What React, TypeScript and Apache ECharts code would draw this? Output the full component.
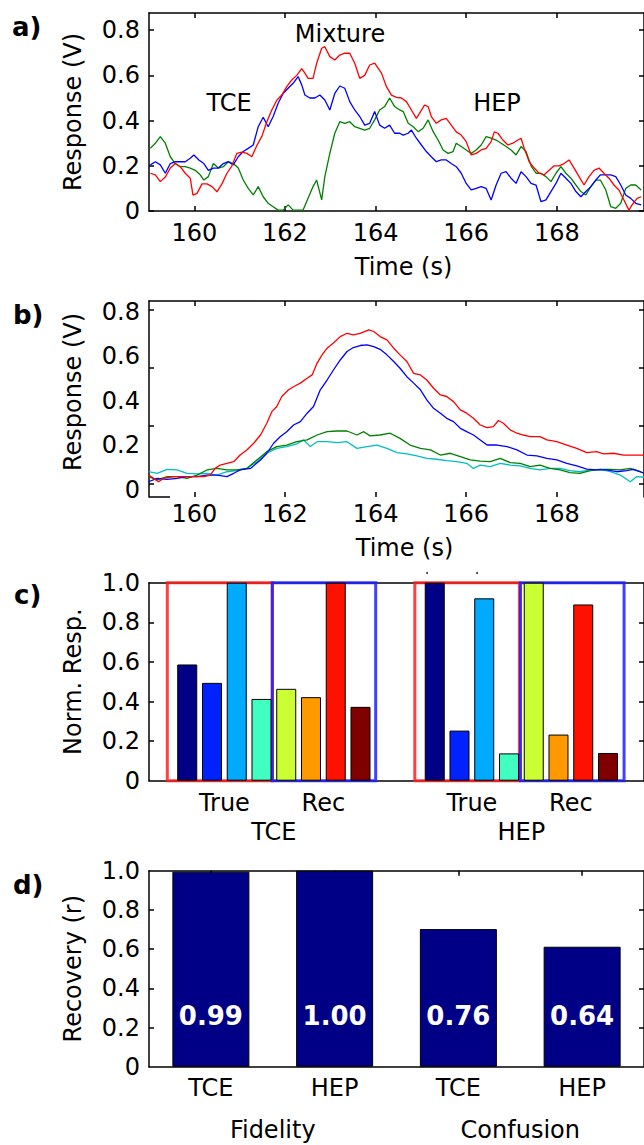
import React, { useEffect, useRef } from "react";
import * as echarts from "echarts";

const FONT = "DejaVu Sans";

// ---------- Panel a: raw responses ----------
const mixtureA: number[][] = [
  [159.03,0.167],[159.14,0.16],[159.25,0.13],[159.36,0.15],[159.47,0.19],[159.58,0.21],[159.69,0.196],[159.8,0.167],[159.91,0.145],[159.97,0.07],[160.06,0.078],[160.17,0.12],[160.28,0.12],[160.39,0.108],[160.5,0.085],[160.61,0.12],[160.72,0.167],[160.83,0.2],[160.94,0.255],[161.05,0.26],[161.16,0.255],[161.27,0.24],[161.38,0.29],[161.49,0.33],[161.6,0.395],[161.71,0.447],[161.82,0.49],[161.93,0.513],[162.04,0.55],[162.15,0.58],[162.26,0.6],[162.37,0.63],[162.44,0.61],[162.51,0.587],[162.62,0.587],[162.7,0.654],[162.81,0.72],[162.88,0.727],[162.99,0.683],[163.1,0.668],[163.21,0.69],[163.32,0.698],[163.43,0.698],[163.54,0.654],[163.65,0.587],[163.76,0.6],[163.87,0.646],[163.98,0.654],
  [164.13,0.61],[164.24,0.55],[164.35,0.513],[164.46,0.503],[164.57,0.5],[164.68,0.484],[164.79,0.447],[164.9,0.41],[164.97,0.432],[165.08,0.469],[165.16,0.462],[165.23,0.418],[165.34,0.388],[165.45,0.403],[165.56,0.41],[165.67,0.38],[165.78,0.35],[165.89,0.336],[166.0,0.307],[166.11,0.248],[166.22,0.255],[166.33,0.27],[166.44,0.277],[166.55,0.307],[166.62,0.35],[166.7,0.344],[166.81,0.314],[166.92,0.292],[167.03,0.3],[167.14,0.314],[167.21,0.322],[167.28,0.277],[167.39,0.218],[167.5,0.19],[167.61,0.167],[167.72,0.16],[167.83,0.18],[167.94,0.2],[168.05,0.2],[168.16,0.21],[168.27,0.226],[168.38,0.19],[168.49,0.152],[168.6,0.115],[168.71,0.152],[168.82,0.18],[168.93,0.19],[169.04,0.167],[169.15,0.145],[169.26,0.115],[169.37,0.093],[169.48,0.049],[169.59,0.004],[169.66,0.027],[169.77,0.056],[169.86,0.063]
];
const tceA: number[][] = [
  [159.03,0.204],[159.14,0.218],[159.25,0.204],[159.36,0.167],[159.47,0.21],[159.58,0.218],[159.69,0.218],[159.8,0.218],[159.91,0.233],[159.99,0.248],[160.1,0.226],[160.21,0.21],[160.31,0.18],[160.42,0.19],[160.53,0.19],[160.64,0.21],[160.75,0.218],[160.86,0.204],[160.97,0.24],[161.08,0.263],[161.19,0.277],[161.3,0.292],[161.41,0.373],[161.52,0.415],[161.63,0.373],[161.74,0.418],[161.85,0.477],[161.96,0.52],[162.07,0.543],[162.18,0.565],[162.29,0.595],[162.37,0.558],[162.44,0.513],[162.55,0.5],[162.66,0.5],[162.77,0.513],[162.88,0.491],[162.99,0.447],[163.1,0.52],[163.21,0.553],[163.32,0.543],[163.43,0.484],[163.54,0.447],[163.65,0.418],[163.76,0.38],[163.87,0.388],[163.98,0.44],
  [164.09,0.38],[164.2,0.366],[164.31,0.38],[164.42,0.344],[164.53,0.344],[164.61,0.336],[164.72,0.344],[164.79,0.358],[164.9,0.322],[165.01,0.292],[165.12,0.263],[165.23,0.24],[165.34,0.218],[165.45,0.226],[165.56,0.226],[165.67,0.21],[165.78,0.196],[165.89,0.167],[166.0,0.122],[166.11,0.093],[166.22,0.1],[166.33,0.108],[166.44,0.1],[166.55,0.049],[166.66,0.115],[166.77,0.167],[166.88,0.174],[166.99,0.145],[167.1,0.122],[167.21,0.174],[167.32,0.152],[167.43,0.122],[167.54,0.115],[167.65,0.041],[167.76,0.049],[167.87,0.086],[167.98,0.122],[168.09,0.167],[168.2,0.145],[168.31,0.122],[168.42,0.086],[168.53,0.063],[168.64,0.086],[168.75,0.108],[168.86,0.137],[168.96,0.16],[169.08,0.16],[169.19,0.16],[169.3,0.152],[169.41,0.115],[169.52,0.071],[169.63,0.056],[169.74,0.034],[169.86,0.027]
];
const hepA: number[][] = [
  [159.03,0.277],[159.14,0.3],[159.25,0.329],[159.36,0.3],[159.47,0.24],[159.58,0.21],[159.69,0.196],[159.8,0.196],[159.91,0.19],[160.02,0.18],[160.13,0.16],[160.21,0.137],[160.31,0.152],[160.42,0.21],[160.53,0.19],[160.64,0.196],[160.75,0.218],[160.86,0.21],[160.97,0.19],[161.08,0.137],[161.19,0.1],[161.3,0.071],[161.41,0.108],[161.52,0.063],[161.63,0.034],[161.74,0.019],[161.85,0.004],[161.96,0.004],[162.07,0.027],[162.18,0.004],[162.29,0.004],[162.4,0.004],[162.51,0.056],[162.62,0.108],[162.7,0.137],[162.81,0.049],[162.88,0.152],[162.99,0.255],[163.1,0.344],[163.21,0.395],[163.32,0.388],[163.43,0.395],[163.54,0.373],[163.65,0.366],[163.76,0.358],[163.87,0.366],[163.98,0.403],[164.09,0.447],[164.2,0.462],[164.31,0.5],[164.42,0.462],[164.53,0.447],
  [164.61,0.44],[164.72,0.388],[164.83,0.373],[164.94,0.351],[165.05,0.366],[165.16,0.403],[165.27,0.351],[165.38,0.314],[165.49,0.27],[165.6,0.255],[165.71,0.263],[165.78,0.3],[165.89,0.285],[166.0,0.27],[166.11,0.255],[166.22,0.27],[166.33,0.292],[166.44,0.329],[166.55,0.322],[166.66,0.314],[166.77,0.3],[166.88,0.285],[166.99,0.27],[167.1,0.248],[167.21,0.285],[167.32,0.263],[167.43,0.2],[167.54,0.167],[167.65,0.167],[167.76,0.152],[167.87,0.13],[167.98,0.167],[168.09,0.196],[168.2,0.167],[168.31,0.145],[168.42,0.115],[168.53,0.086],[168.64,0.071],[168.75,0.108],[168.86,0.137],[168.96,0.137],[169.08,0.093],[169.19,0.019],[169.3,0.012],[169.41,0.034],[169.52,0.1],[169.63,0.115],[169.74,0.115],[169.86,0.093]
];

// ---------- Panel b: smoothed responses ----------
const mixtureB: number[][] = [
  [158.99,0.067],[159.1,0.052],[159.21,0.037],[159.32,0.052],[159.54,0.06],[159.76,0.06],[159.99,0.06],[160.21,0.06],[160.35,0.067],[160.46,0.097],[160.57,0.112],[160.72,0.12],[160.87,0.127],[161.01,0.157],[161.16,0.18],[161.31,0.21],[161.46,0.247],[161.6,0.3],[161.71,0.352],[161.82,0.375],[161.93,0.42],[162.08,0.45],[162.19,0.464],[162.34,0.48],[162.49,0.502],[162.6,0.517],[162.71,0.57],[162.82,0.607],[162.93,0.637],[163.07,0.66],[163.22,0.689],[163.37,0.704],[163.51,0.697],[163.66,0.704],[163.85,0.719],[163.96,0.712],[164.1,0.689],[164.25,0.674],[164.4,0.637],[164.54,0.607],[164.69,0.577],[164.84,0.524],[164.99,0.517],[165.13,0.494],[165.28,0.457],[165.43,0.427],[165.57,0.42],[165.72,0.397],[165.87,0.36],[166.01,0.345],[166.16,0.322],[166.31,0.292],[166.46,0.28],[166.6,0.285],[166.71,0.312],[166.82,0.3],[166.97,0.27],[167.12,0.255],[167.26,0.247],[167.41,0.24],[167.63,0.24],[167.78,0.225],[168.0,0.217],[168.22,0.202],[168.44,0.187],[168.66,0.168],[168.88,0.172],[169.03,0.162],[169.25,0.165],[169.47,0.157],[169.69,0.157],[169.93,0.157]
];
const tceB: number[][] = [
  [158.99,0.037],[159.18,0.052],[159.4,0.048],[159.62,0.052],[159.84,0.06],[160.06,0.06],[160.28,0.067],[160.5,0.067],[160.72,0.06],[160.87,0.075],[161.01,0.09],[161.24,0.097],[161.46,0.135],[161.6,0.165],[161.75,0.21],[161.9,0.24],[162.04,0.262],[162.19,0.292],[162.34,0.307],[162.49,0.345],[162.63,0.375],[162.78,0.45],[162.93,0.494],[163.07,0.539],[163.22,0.584],[163.37,0.622],[163.51,0.64],[163.66,0.649],[163.81,0.652],[163.96,0.644],[164.1,0.632],[164.25,0.607],[164.4,0.577],[164.54,0.547],[164.69,0.509],[164.84,0.48],[164.99,0.45],[165.13,0.405],[165.28,0.367],[165.43,0.345],[165.57,0.322],[165.72,0.307],[165.87,0.277],[166.01,0.262],[166.16,0.247],[166.31,0.225],[166.46,0.202],[166.68,0.202],[166.9,0.195],[167.12,0.18],[167.34,0.157],[167.56,0.153],[167.78,0.142],[168.0,0.135],[168.22,0.12],[168.44,0.108],[168.66,0.094],[168.88,0.09],[169.1,0.09],[169.32,0.082],[169.54,0.087],[169.69,0.093],[169.93,0.075]
];
const hepB: number[][] = [
  [158.99,0.06],[159.18,0.045],[159.4,0.06],[159.62,0.06],[159.84,0.052],[160.06,0.067],[160.28,0.09],[160.5,0.097],[160.72,0.09],[160.94,0.09],[161.16,0.097],[161.38,0.135],[161.6,0.172],[161.82,0.195],[162.04,0.202],[162.26,0.217],[162.49,0.225],[162.71,0.247],[162.93,0.262],[163.15,0.265],[163.37,0.265],[163.59,0.247],[163.74,0.262],[163.88,0.243],[164.1,0.247],[164.32,0.255],[164.54,0.232],[164.76,0.202],[164.99,0.187],[165.21,0.18],[165.43,0.157],[165.65,0.165],[165.87,0.15],[166.09,0.135],[166.31,0.13],[166.53,0.127],[166.75,0.142],[166.97,0.123],[167.19,0.12],[167.41,0.105],[167.63,0.112],[167.85,0.097],[168.07,0.09],[168.29,0.078],[168.51,0.075],[168.74,0.087],[168.96,0.093],[169.18,0.093],[169.4,0.09],[169.62,0.097],[169.84,0.082],[169.93,0.075]
];
const otherB: number[][] = [
  [158.99,0.082],[159.18,0.075],[159.4,0.093],[159.62,0.09],[159.84,0.075],[160.06,0.072],[160.28,0.075],[160.5,0.067],[160.72,0.082],[160.94,0.087],[161.16,0.097],[161.38,0.127],[161.6,0.165],[161.82,0.187],[162.04,0.195],[162.26,0.207],[162.41,0.225],[162.56,0.195],[162.71,0.217],[162.93,0.217],[163.15,0.213],[163.37,0.217],[163.59,0.187],[163.81,0.195],[164.03,0.202],[164.25,0.187],[164.47,0.168],[164.69,0.162],[164.91,0.153],[165.13,0.142],[165.35,0.138],[165.57,0.132],[165.79,0.127],[166.01,0.12],[166.16,0.097],[166.31,0.112],[166.53,0.105],[166.75,0.12],[166.97,0.112],[167.19,0.108],[167.41,0.097],[167.63,0.09],[167.85,0.097],[168.07,0.097],[168.29,0.087],[168.51,0.082],[168.74,0.09],[168.96,0.093],[169.18,0.082],[169.4,0.067],[169.62,0.037],[169.76,0.06],[169.93,0.057]
];

const timeTicks = [160, 162, 164, 166, 168];
const respTicks = [0, 0.2, 0.4, 0.6, 0.8];
const respGhostTicksB = [0.03, 0.29, 0.55, 0.81];

// ---------- Panel c: normalised responses ----------
const barSlotsC = [0, 1, 2, 3, 4, 5, 6, 7, 10, 11, 12, 13, 14, 15, 16, 17];
const barValuesC = [0.587, 0.494, 1.0, 0.413, 0.464, 0.422, 1.0, 0.373, 1.0, 0.253, 0.921, 0.138, 1.0, 0.233, 0.89, 0.14];
const barColorsC = ["#000086", "#0022ff", "#00aaff", "#40ffc0", "#ccff33", "#ff9900", "#ff1100", "#800000"];
const subGroupPosC = [1.5, 5.5, 11.5, 15.5];
const subGroupNamesC = ["True", "Rec", "True", "Rec"];
const groupPosC = [3.5, 13.5];
const groupNamesC = ["TCE", "HEP"];
const boxStartC = [-0.805, 3.437, 9.195, 13.465];
const boxEndC = [3.437, 7.614, 13.42, 17.65];
const boxColorC = ["rgba(255,30,30,0.85)", "rgba(30,30,255,0.85)", "rgba(255,30,30,0.85)", "rgba(30,30,255,0.85)"];
const normTicks = [0, 0.2, 0.4, 0.6, 0.8, 1.0];
const innerTicks = [0.2, 0.4, 0.6, 0.8];

// ---------- Panel d: recovery ----------
const recoveryCats = ["TCE", "HEP", "TCE", "HEP"];
const recoveryValues = [0.995, 1.0, 0.702, 0.612];
const recoveryLabels = ["0.99", "1.00", "0.76", "0.64"];
const recoveryGroups = ["Fidelity", "Confusion"];

const XMIN = 159;
const XMAX = 159 + 497 / 45.5;

const txt = { fontFamily: FONT, fontSize: 24, color: "#000" };
const line = { color: "#000", width: 1.5 };
const fmtY = (v: number) => (Math.abs(v) < 1e-9 ? "0" : v.toFixed(1));
const pick = (pos: number[], names: string[]) => (v: number) => {
  const i = pos.findIndex((p) => Math.abs(p - v) < 1e-6);
  return i >= 0 ? names[i] : "";
};

function frameX(gridIndex: number, min: number, max: number, ticks: number[] | null) {
  return {
    type: "value", gridIndex, min, max, position: "top",
    axisLine: { show: true, onZero: false, lineStyle: line },
    axisTick: ticks ? { show: true, inside: true, length: 5, customValues: ticks, lineStyle: line } : { show: false },
    axisLabel: { show: false }, splitLine: { show: false },
  };
}
function frameY(gridIndex: number, min: number, max: number, ticks: number[]) {
  return {
    type: "value", gridIndex, min, max, position: "right",
    axisLine: { show: true, onZero: false, lineStyle: line },
    axisTick: { show: true, inside: true, length: 5, customValues: ticks, lineStyle: line },
    axisLabel: { show: false }, splitLine: { show: false },
  };
}

export default function App() {
  const ref = useRef<HTMLDivElement>(null);
  useEffect(() => {
    if (!ref.current) return;
    const chart = echarts.init(ref.current, undefined, { renderer: "svg" });
    const lineSeries = (name: string, data: number[][], color: string, xi: number, yi: number) => ({
      name, type: "line", data, xAxisIndex: xi, yAxisIndex: yi, showSymbol: false, symbol: "none",
      lineStyle: { color, width: 1.3 }, itemStyle: { color }, clip: true,
    });
    const panelLabel = (text: string, x: number, y: number) => ({
      type: "text", x, y,
      style: { text, fontFamily: FONT, fontSize: 26, fontWeight: "bold", fill: "#000", align: "left", verticalAlign: "middle" },
    });
    const note = (text: string, x: number, y: number) => ({
      type: "text", x, y,
      style: { text, fontFamily: FONT, fontSize: 24, fill: "#000", align: "center", verticalAlign: "middle" },
    });
    const option: any = {
      animation: false,
      backgroundColor: "#fff",
      grid: [
        { left: 149, top: 13, width: 497, height: 198 },
        { left: 149, top: 301, width: 497, height: 196 },
        { left: 149, top: 582.7, width: 497, height: 198 },
        { left: 149, top: 870.7, width: 497, height: 196 },
      ],
      xAxis: [
        // a
        {
          type: "value", gridIndex: 0, min: XMIN, max: XMAX, position: "bottom",
          axisLine: { show: true, onZero: false, lineStyle: line },
          axisTick: { show: true, inside: true, length: 5, customValues: timeTicks, lineStyle: line },
          axisLabel: { ...txt, margin: 10, customValues: timeTicks },
          splitLine: { show: false },
          name: "Time (s)", nameLocation: "middle", nameGap: 44,
          nameTextStyle: { ...txt, padding: [0, 0, 0, 14] },
        },
        frameX(0, XMIN, XMAX, timeTicks),
        // b
        {
          type: "value", gridIndex: 1, min: XMIN, max: XMAX, position: "bottom",
          axisLine: { show: false, onZero: false },
          axisTick: { show: true, inside: true, length: 5, customValues: timeTicks, lineStyle: line },
          axisLabel: { ...txt, margin: 5, customValues: timeTicks },
          splitLine: { show: false },
          name: "Time (s)", nameLocation: "middle", nameGap: 39,
          nameTextStyle: { ...txt, padding: [0, 0, 0, 16] },
        },
        frameX(1, XMIN, XMAX, timeTicks),
        // c
        {
          type: "value", gridIndex: 2, min: -1.545, max: 18.455, position: "bottom",
          axisLine: { show: true, onZero: false, lineStyle: line },
          axisTick: { show: false },
          axisLabel: { ...txt, margin: 10, customValues: subGroupPosC, formatter: pick(subGroupPosC, subGroupNamesC) },
          splitLine: { show: false },
        },
        {
          type: "value", gridIndex: 2, min: -1.545, max: 18.455, position: "bottom",
          axisLine: { show: false, onZero: false },
          axisTick: { show: false },
          axisLabel: { ...txt, margin: 39, customValues: groupPosC, formatter: pick(groupPosC, groupNamesC) },
          splitLine: { show: false },
        },
        frameX(2, -1.545, 18.455, null),
        // d
        {
          type: "category", gridIndex: 3, data: recoveryCats, position: "bottom",
          axisLine: { show: true, onZero: false, lineStyle: line },
          axisTick: { show: false },
          axisLabel: { ...txt, margin: 9 },
        },
        {
          type: "category", gridIndex: 3, data: recoveryGroups, position: "bottom",
          axisLine: { show: false, onZero: false },
          axisTick: { show: false },
          axisLabel: { ...txt, margin: 51 },
        },
        {
          type: "category", gridIndex: 3, data: recoveryCats, position: "top",
          axisLine: { show: true, onZero: false, lineStyle: line },
          axisTick: { show: true, inside: true, length: 5, alignWithLabel: true, lineStyle: line },
          axisLabel: { show: false },
        },
      ],
      yAxis: [
        // a
        {
          type: "value", gridIndex: 0, min: 0, max: 0.876, position: "left",
          axisLine: { show: true, onZero: false, lineStyle: line },
          axisTick: { show: true, inside: true, length: 5, customValues: respTicks, lineStyle: line },
          axisLabel: { ...txt, margin: 9, customValues: respTicks, formatter: fmtY },
          splitLine: { show: false },
          name: "Response (V)", nameLocation: "middle", nameGap: 64, nameRotate: 90,
          nameTextStyle: txt,
        },
        frameY(0, 0, 0.876, respTicks),
        // b
        {
          type: "value", gridIndex: 1, min: -0.0315, max: 0.849, position: "left",
          axisLine: { show: true, onZero: false, lineStyle: line },
          axisTick: { show: true, inside: true, length: 5, customValues: respGhostTicksB, lineStyle: line },
          axisLabel: { ...txt, margin: 9, customValues: respTicks, formatter: fmtY },
          splitLine: { show: false },
          name: "Response (V)", nameLocation: "middle", nameGap: 64, nameRotate: 90,
          nameTextStyle: { ...txt, padding: [0, 0, 0, 14] },
        },
        frameY(1, -0.0315, 0.849, respGhostTicksB),
        // c
        {
          type: "value", gridIndex: 2, min: 0, max: 1, position: "left",
          axisLine: { show: true, onZero: false, lineStyle: line },
          axisTick: { show: true, inside: true, length: 5, customValues: innerTicks, lineStyle: line },
          axisLabel: { ...txt, margin: 9, customValues: normTicks, formatter: fmtY },
          splitLine: { show: false },
          name: "Norm. Resp.", nameLocation: "middle", nameGap: 64, nameRotate: 90,
          nameTextStyle: txt,
        },
        frameY(2, 0, 1, innerTicks),
        // d
        {
          type: "value", gridIndex: 3, min: 0, max: 1, position: "left",
          axisLine: { show: true, onZero: false, lineStyle: line },
          axisTick: { show: true, inside: true, length: 5, customValues: innerTicks, lineStyle: line },
          axisLabel: { ...txt, margin: 9, customValues: normTicks, formatter: fmtY },
          splitLine: { show: false },
          name: "Recovery (r)", nameLocation: "middle", nameGap: 64, nameRotate: 90,
          nameTextStyle: txt,
        },
        frameY(3, 0, 1, innerTicks),
      ],
      series: [
        lineSeries("HEP", hepA, "#008000", 0, 0),
        lineSeries("TCE", tceA, "#0000ff", 0, 0),
        lineSeries("Mixture", mixtureA, "#ff0000", 0, 0),
        lineSeries("Other", otherB, "#00bfbf", 2, 2),
        lineSeries("HEP", hepB, "#008000", 2, 2),
        lineSeries("TCE", tceB, "#0000ff", 2, 2),
        lineSeries("Mixture", mixtureB, "#ff0000", 2, 2),
        {
          name: "Norm. Resp.", type: "bar", xAxisIndex: 4, yAxisIndex: 4, barWidth: 20,
          data: barSlotsC.map((s, i) => ({
            value: [s, barValuesC[i]],
            itemStyle: { color: barColorsC[i % 8], borderColor: "#000", borderWidth: 1 },
          })),
          markArea: {
            silent: true,
            label: { show: false },
            data: boxStartC.map((s, i) => [
              { coord: [s, 0], itemStyle: { color: "rgba(0,0,0,0)", borderColor: boxColorC[i], borderWidth: 3 } },
              { coord: [boxEndC[i], 1] },
            ]),
          },
        },
        {
          name: "Recovery", type: "bar", xAxisIndex: 7, yAxisIndex: 6, barWidth: 77,
          data: recoveryValues,
          itemStyle: { color: "#000086", borderColor: "#000", borderWidth: 1 },
          label: {
            show: true, position: "insideBottom", distance: 38,
            formatter: (p: any) => recoveryLabels[p.dataIndex],
            color: "#fff", fontFamily: FONT, fontSize: 26, fontWeight: "bold",
          },
        },
      ],
      graphic: [
        note("Mixture", 340, 34),
        note("TCE", 229, 102.5),
        note("HEP", 497, 102.5),
        panelLabel("a)", 12, 27),
        panelLabel("b)", 13, 315),
        panelLabel("c)", 14, 595),
        panelLabel("d)", 13, 885),
        { type: "line", shape: { x1: 149, y1: 497, x2: 170, y2: 497 }, style: { stroke: "#000", lineWidth: 1.5 } },
        { type: "circle", shape: { cx: 427, cy: 573, r: 1 }, style: { fill: "#333" } },
        { type: "circle", shape: { cx: 477, cy: 573, r: 1 }, style: { fill: "#333" } },
      ],
    };
    chart.setOption(option);
    return () => chart.dispose();
  }, []);
  return (
    <div
      ref={ref}
      style={{ position: "fixed", left: 0, top: 0, width: 644, height: 1145, background: "#fff" }}
    />
  );
}
